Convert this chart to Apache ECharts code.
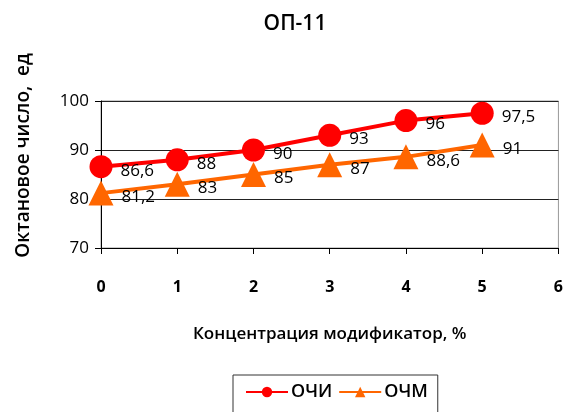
<!DOCTYPE html>
<html>
<head>
<meta charset="utf-8">
<script src="https://cdn.jsdelivr.net/npm/echarts@6/dist/echarts.min.js"></script>
<style>
  html, body { margin: 0; padding: 0; background: #fff; }
  #chart { width: 566px; height: 412px; }
</style>
</head>
<body>
<div id="chart"></div>
<script>
// концентрация модификатора, %
const concentration = [0, 1, 2, 3, 4, 5]
// ОЧИ
const ochi = [86.6, 88, 90, 93, 96, 97.5]
// ОЧМ
const ochm = [81.2, 83, 85, 87, 88.6, 91]

const font = '"Open Sans", "DejaVu Sans", sans-serif'

const pairs = vals => concentration.map((x, i) => [x, vals[i]])
const fmt = p => String(p.value[1]).replace('.', ',')

const chart = echarts.init(document.getElementById('chart'))
chart.setOption({
  animation: false,
  textStyle: { fontFamily: font },
  title: {
    text: 'ОП-11',
    left: 290,
    top: 9,
    textAlign: 'center',
    textStyle: { fontSize: 21, fontWeight: 600, color: '#000', fontFamily: font }
  },
  grid: {
    left: 101, right: 6, top: 101, bottom: 164,
    show: true, borderColor: '#999', borderWidth: 1
  },
  legend: {
    top: 375,
    left: 233,
    padding: [8, 10, 12, 12],
    borderColor: '#333',
    borderWidth: 1,
    itemWidth: 42,
    itemHeight: 13,
    itemGap: 6,
    textStyle: { fontSize: 18, fontWeight: 600, color: '#000', fontFamily: font, padding: [0, 0, 0, -2] },
    data: ['ОЧИ', 'ОЧМ']
  },
  xAxis: {
    type: 'value',
    min: 0, max: 6, interval: 1,
    name: 'Концентрация модификатор, %',
    nameLocation: 'middle',
    nameGap: 78,
    nameTextStyle: { fontSize: 17, fontWeight: 600, color: '#000', fontFamily: font },
    axisLine: { lineStyle: { color: '#000', width: 1 } },
    axisTick: { show: true, inside: false, length: 6, lineStyle: { color: '#000' } },
    axisLabel: { fontSize: 16, fontWeight: 'bold', color: '#000', margin: 31 },
    splitLine: { show: false }
  },
  yAxis: {
    type: 'value',
    min: 70, max: 100, interval: 10,
    name: 'Октановое число,  ед',
    nameLocation: 'middle',
    nameGap: 68,
    nameRotate: 90,
    nameTextStyle: { fontSize: 19, fontWeight: 600, color: '#000', fontFamily: font, padding: [0, 0, 0, 38] },
    axisLine: { show: true, lineStyle: { color: '#000', width: 1 } },
    axisTick: { show: true, inside: false, length: 6, lineStyle: { color: '#000' } },
    axisLabel: { fontSize: 17, color: '#000', margin: 12 },
    splitLine: { show: true, lineStyle: { color: '#222', width: 1 } }
  },
  series: [
    {
      name: 'ОЧИ',
      type: 'line',
      data: pairs(ochi),
      symbol: 'circle',
      symbolSize: 23,
      lineStyle: { color: '#ff0000', width: 4 },
      itemStyle: { color: '#ff0000' },
      label: {
        show: true, position: 'right', distance: 8, offset: [0, 4],
        formatter: fmt, fontSize: 17, color: '#000'
      }
    },
    {
      name: 'ОЧМ',
      type: 'line',
      data: pairs(ochm),
      symbol: 'triangle',
      symbolSize: 25,
      lineStyle: { color: '#ff6600', width: 4 },
      itemStyle: { color: '#ff6600' },
      label: {
        show: true, position: 'right', distance: 8, offset: [0, 4],
        formatter: fmt, fontSize: 17, color: '#000'
      }
    }
  ]
})
</script>
</body>
</html>
